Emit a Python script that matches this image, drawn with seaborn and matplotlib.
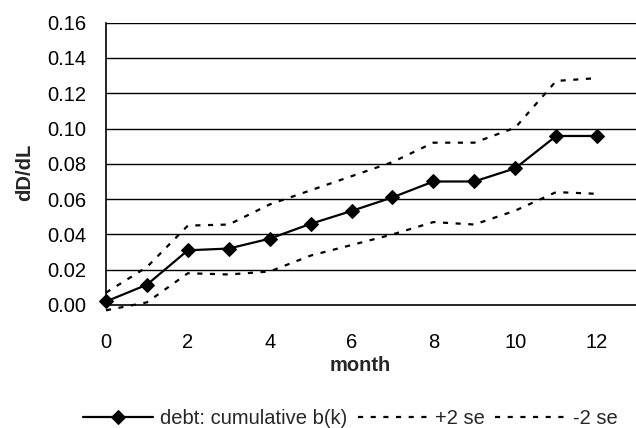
import numpy as np
import pandas as pd
import matplotlib
matplotlib.use("Agg")
import matplotlib.pyplot as plt
import seaborn as sns

months = list(range(13))
debt = [0.002, 0.0115, 0.031, 0.032, 0.0376, 0.046, 0.0533, 0.061, 0.070, 0.070, 0.0775, 0.0958, 0.0958]
upper = [0.007, 0.0215, 0.045, 0.0456, 0.057, 0.065, 0.073, 0.081, 0.092, 0.092, 0.1005, 0.127, 0.1286]
lower = [-0.003, 0.0015, 0.018, 0.0173, 0.019, 0.028, 0.034, 0.040, 0.047, 0.0456, 0.0535, 0.064, 0.063]
yticks = [0.00, 0.02, 0.04, 0.06, 0.08, 0.10, 0.12, 0.14, 0.16]
xticks = [0, 2, 4, 6, 8, 10, 12]

sns.set_theme(style="white")
plt.rcParams['font.family'] = ['Liberation Sans', 'DejaVu Sans']

W, H = 636, 428
fig = plt.figure(figsize=(W / 100, H / 100), dpi=100)
left, right, top, bottom = 106, 636, 22.7, 305
ax = fig.add_axes([left / W, 1 - bottom / H, (right - left) / W, (bottom - top) / H])

df = pd.DataFrame({"month": months, "debt": debt, "upper": upper, "lower": lower})

dash = (0, (2.3, 3.4))
sns.lineplot(data=df, x="month", y="debt", ax=ax, color="black", lw=1.6,
             marker="D", markersize=7.5, markeredgecolor="black",
             label="debt: cumulative b(k)", clip_on=False, zorder=5)
sns.lineplot(data=df, x="month", y="upper", ax=ax, color="black", lw=1.6,
             linestyle=dash, label="+2 se", clip_on=False)
sns.lineplot(data=df, x="month", y="lower", ax=ax, color="black", lw=1.6,
             linestyle=dash, label="-2 se", clip_on=False)

ax.set_xlim(0, 12.95)
ax.set_ylim(0, 0.16)
fs = 14.5
ax.set_yticks(yticks)
ax.set_yticklabels([f"{v:.2f}" for v in yticks], fontsize=fs)
ax.set_xticks(xticks)
ax.set_xticklabels([str(v) for v in xticks], fontsize=fs)
for y in yticks[1:]:
    ax.axhline(y, color="black", lw=1.0, zorder=1)
ax.spines['top'].set_visible(False)
ax.spines['right'].set_visible(False)
for s in ('left', 'bottom'):
    ax.spines[s].set_color('black')
    ax.spines[s].set_linewidth(1.2)
ax.tick_params(axis='both', direction='out', length=5, width=1, color='black', labelcolor='black')
ax.tick_params(axis='y', pad=9)
ax.tick_params(axis='x', pad=15)

ax.set_xlabel("month", fontsize=fs, fontweight="bold")
ax.xaxis.set_label_coords((360 - left) / (right - left), (bottom - 356) / (bottom - top))
ax.set_ylabel("dD/dL", fontsize=fs, fontweight="bold")
ax.yaxis.set_label_coords((34 - left) / (right - left), (bottom - 172) / (bottom - top))

ax.legend(loc="center", bbox_to_anchor=(350 / W, 1 - 419 / H), bbox_transform=fig.transFigure,
          ncol=3, frameon=False, fontsize=fs, handlelength=3.5, handletextpad=0.35,
          columnspacing=0.5, borderpad=0)

fig.savefig("out.png", dpi=100)
